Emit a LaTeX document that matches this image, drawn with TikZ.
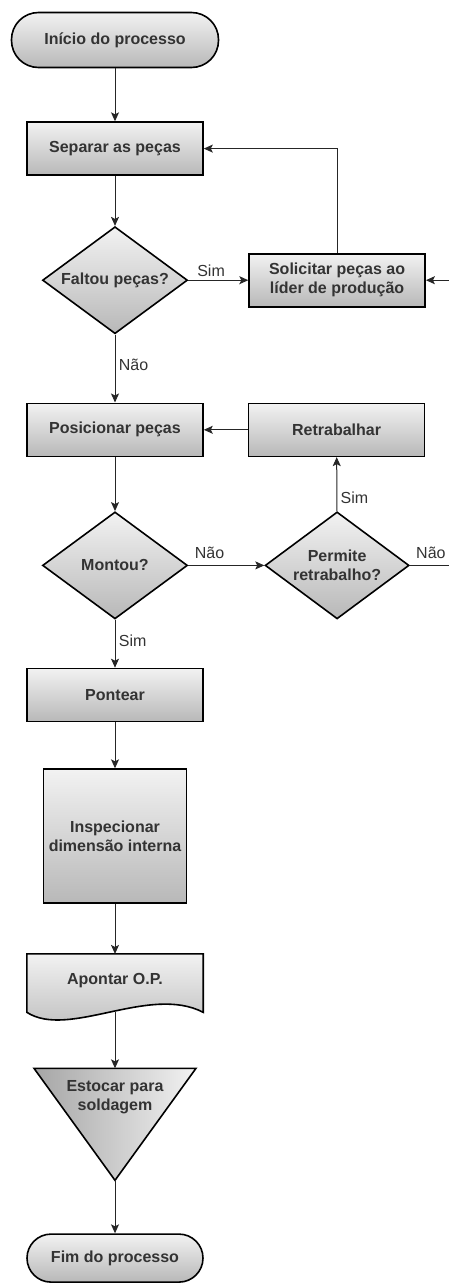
\documentclass[tikz,border=0pt]{standalone}
\usepackage{fontspec}
\setmainfont{Liberation Sans}
\usetikzlibrary{positioning, shapes.geometric, arrows.meta, calc, backgrounds}
\definecolor{shadetop}{HTML}{F2F2F2}
\definecolor{shadebot}{HTML}{B8B8B8}
\definecolor{txtgray}{HTML}{333333}

\begin{document}
\begin{tikzpicture}[
    x=1pt, y=-1pt,
    base/.style={draw=black, line width=1.6pt, top color=shadetop, bottom color=shadebot, text=txtgray, font=\fontsize{16}{19}\selectfont\bfseries, align=center, inner sep=2pt},
    term/.style={base, rectangle, rounded corners=24pt, minimum width=176pt, minimum height=48pt},
    proc/.style={base, rectangle, minimum width=176pt, minimum height=53pt},
    decision/.style={base, diamond, aspect=1.35, minimum width=145pt, minimum height=107pt, inner sep=0pt},
    docbox/.style={rectangle, text=txtgray, font=\fontsize{16}{19}\selectfont\bfseries, minimum width=176pt, minimum height=58pt, text depth=9pt},
    shapefill/.style={draw=black, line width=1.6pt, top color=shadetop, bottom color=shadebot},
    trifill/.style={draw=black, line width=1.6pt, left color=shadebot!90!black, right color=shadetop},
    arrow/.style={-{Stealth[length=9pt, width=8pt, inset=2pt]}, line width=1pt, draw=black!85},
    link/.style={line width=1pt, draw=black!85},
    lbl/.style={text=txtgray, font=\fontsize{16}{19}\selectfont}
]
    \useasboundingbox (0,0) rectangle (449,1283);

    % Nodes
    \node[term, minimum width=207pt, minimum height=55pt, rounded corners=27pt] (inicio) at (115,40) {Início do processo};
    \node[proc, below=53pt of inicio] (separar) {Separar as peças};
    \node[decision, below=50pt of separar] (faltou) {Faltou peças?};
    \node[proc, right=60pt of faltou] (solicitar) {Solicitar peças ao\\líder de produção};
    \node[proc, below=68pt of faltou] (posicionar) {Posicionar peças};
    \node[proc, right=44pt of posicionar] (retrabalhar) {Retrabalhar};
    \node[decision, below=54pt of posicionar] (montou) {Montou?};
    \node[decision, right=76pt of montou, minimum width=144pt] (permite) {Permite\\retrabalho?};
    \node[proc, below=48pt of montou] (pontear) {Pontear};
    \node[proc, below=46pt of pontear, minimum width=143pt, minimum height=134pt] (inspecionar) {Inspecionar\\dimensão interna};
    \node[docbox, below=50pt of inspecionar] (apontar) {Apontar O.P.};
    \coordinate[below=56pt of apontar] (estocar top);
    \coordinate (estocar apex) at ($(estocar top)+(0,112)$);
    \node[text=txtgray, font=\fontsize{16}{19}\selectfont\bfseries, align=center, inner sep=0pt, below=12pt of estocar top] (estocar) {Estocar para\\soldagem};
    \node[term, below=53pt of estocar apex] (fim) {Fim do processo};
    \coordinate[right=26pt of solicitar] (from right);
    \coordinate[right=42pt of permite] (to right);

    % Shapes drawn by hand
    \begin{scope}[on background layer]
        \path[shapefill] (apontar.north west) -- (apontar.north east) -- (apontar.south east)
            .. controls ($(apontar.south east)+(-54,-28)$) and ($(apontar.south west)+(42,27)$) .. (apontar.south west) -- cycle;
        \path[trifill] ($(estocar top)+(-81,0)$) -- ($(estocar top)+(81,0)$) -- (estocar apex) -- cycle;
    \end{scope}

    % Edges
    \draw[arrow] (inicio) -- (separar);
    \draw[arrow] (separar) -- (faltou);
    \draw[arrow] (faltou) -- node[lbl, above, pos=0.38] {Sim} (solicitar);
    \draw[arrow] (solicitar) |- (separar);
    \draw[arrow] (from right) -- (solicitar);
    \draw[arrow] (faltou) -- node[lbl, right, pos=0.45] {Não} (posicionar);
    \draw[arrow] (retrabalhar) -- (posicionar);
    \draw[arrow] (posicionar) -- (montou);
    \draw[arrow] (montou) -- node[lbl, above, pos=0.28, yshift=3pt] {Não} (permite);
    \draw[arrow] (permite) -- node[lbl, right, pos=0.25] {Sim} (retrabalhar);
    \draw[link] (permite) -- node[lbl, above, pos=0.5, yshift=3pt] {Não} (to right);
    \draw[arrow] (montou) -- node[lbl, right, pos=0.43] {Sim} (pontear);
    \draw[arrow] (pontear) -- (inspecionar);
    \draw[arrow] (inspecionar) -- (apontar);
    \draw[arrow] (apontar) -- (estocar top);
    \draw[arrow] (estocar apex) -- (fim);
\end{tikzpicture}
\end{document}
